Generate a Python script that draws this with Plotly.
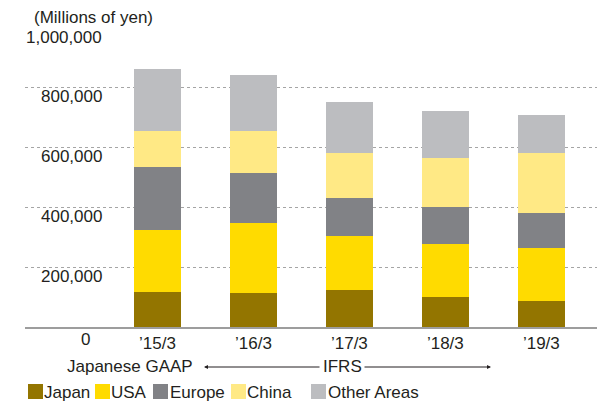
import plotly.graph_objects as go

categories = ["’15/3", "’16/3", "’17/3", "’18/3", "’19/3"]
japan = [118000, 114000, 125000, 101000, 88000]
usa = [205000, 233000, 181000, 178000, 175000]
europe = [212000, 168000, 125000, 122000, 117000]
china = [122000, 142000, 151000, 165000, 202000]
other = [205000, 185000, 169000, 155000, 128000]

series_names = ["Japan", "USA", "Europe", "China", "Other Areas"]
series_values = [japan, usa, europe, china, other]
colors = ["#937500", "#FFDB00", "#818286", "#FFE985", "#BCBDC0"]

ytick_vals = [200000, 400000, 600000, 800000, 1000000]
ytick_text = ["200,000", "400,000", "600,000", "800,000", "1,000,000"]

FONT = "Liberation Sans, Arial, sans-serif"
TXT = "#231f20"
W, H = 597, 402
L, R, T, B = 25, 0, 28, 75
PW, PH = W - L - R, H - T - B


def px(x):
    return (x - L) / PW


def py(y):
    return (H - B - y) / PH


fig = go.Figure()
for name, vals, col in zip(series_names, series_values, colors):
    fig.add_trace(go.Bar(x=list(range(len(categories))), y=vals, name=name,
                         marker=dict(color=col, line=dict(width=0)),
                         showlegend=False))

annotations = []
# y tick labels (placed below gridlines as in reference)
for v, t in zip(ytick_vals, ytick_text):
    annotations.append(dict(x=px(104), xref="paper", y=v, yref="y", text=t,
                            showarrow=False, xanchor="right", yanchor="middle",
                            yshift=-9, font=dict(size=17, color=TXT, family=FONT)))
annotations.append(dict(x=px(92), xref="paper", y=py(339), yref="paper", text="0",
                        showarrow=False, xanchor="right", yanchor="middle",
                        font=dict(size=17, color=TXT, family=FONT)))
annotations.append(dict(x=px(32), xref="paper", y=py(17), yref="paper",
                        text="(Millions of yen)", showarrow=False, xanchor="left",
                        yanchor="middle", font=dict(size=17, color=TXT, family=FONT)))
annotations.append(dict(x=px(65), xref="paper", y=py(366), yref="paper",
                        text="Japanese GAAP", showarrow=False, xanchor="left",
                        yanchor="middle", font=dict(size=17, color=TXT, family=FONT)))
annotations.append(dict(x=px(342), xref="paper", y=py(366), yref="paper",
                        text="IFRS", showarrow=False, xanchor="center",
                        yanchor="middle", font=dict(size=17, color=TXT, family=FONT)))
# arrows
annotations.append(dict(x=px(204), xref="paper", y=py(367), yref="paper", text="",
                        showarrow=True, ax=117, ay=0, arrowhead=2, arrowsize=0.8,
                        arrowwidth=1, arrowcolor=TXT))
annotations.append(dict(x=px(491), xref="paper", y=py(367), yref="paper", text="",
                        showarrow=True, ax=-128, ay=0, arrowhead=2, arrowsize=0.8,
                        arrowwidth=1, arrowcolor=TXT))

# custom legend
legend_sq_x = [28, 95, 153, 231, 311]
legend_txt_x = [42, 109, 168, 245, 326]
shapes = []
for name, col, sx, tx in zip(series_names, colors, legend_sq_x, legend_txt_x):
    shapes.append(dict(type="rect", xref="paper", yref="paper",
                       x0=px(sx), x1=px(sx + 15), y0=py(399), y1=py(384),
                       fillcolor=col, line=dict(width=0)))
    annotations.append(dict(x=px(tx), xref="paper", y=py(392), yref="paper", text=name,
                            showarrow=False, xanchor="left", yanchor="middle",
                            font=dict(size=17, color=TXT, family=FONT)))

fig.update_layout(
    barmode="stack",
    bargap=0.51,
    width=W, height=H,
    margin=dict(l=L, r=R, t=T, b=B),
    paper_bgcolor="white", plot_bgcolor="white",
    font=dict(family=FONT, size=17, color=TXT),
    annotations=annotations,
    shapes=shapes,
    xaxis=dict(range=[-1.38, 4.58], tickmode="array",
               tickvals=list(range(len(categories))), ticktext=categories,
               showgrid=False, zeroline=False, showline=True,
               linecolor="#9d9d9d", linewidth=2, ticks="",
               tickfont=dict(size=17, color=TXT, family=FONT)),
    yaxis=dict(range=[0, 1000000], tickvals=ytick_vals, showticklabels=False,
               showgrid=True, gridcolor="#a5a5a5", griddash="dot", gridwidth=1,
               zeroline=False, showline=False, ticks=""),
)

fig.write_html("out.html", config={"displayModeBar": False},
               post_script="document.body.style.margin='0';document.body.style.overflow='hidden';")
